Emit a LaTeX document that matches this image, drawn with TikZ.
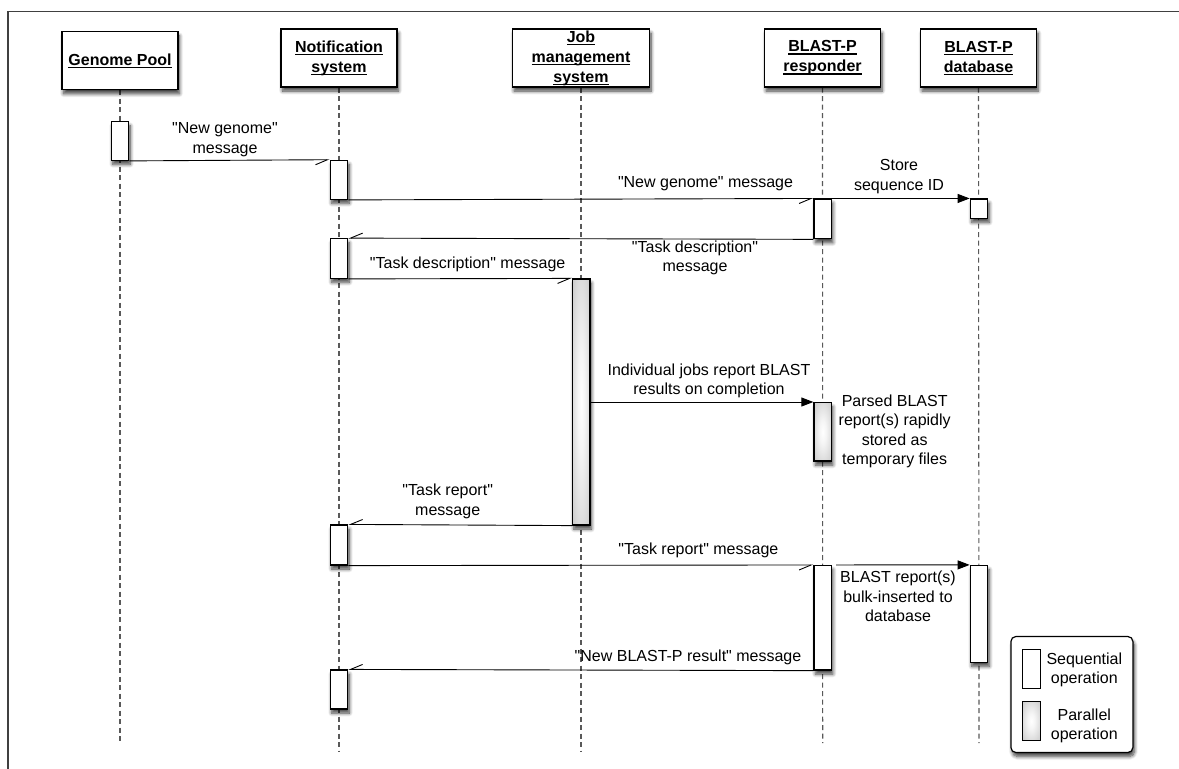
\documentclass[tikz,border=0pt]{standalone}
\usepackage{fontspec}
\setmainfont{Liberation Sans}[Ligatures=TeXOff]
\usetikzlibrary{arrows.meta,shadows.blur}

% underlined heading word: rule 2pt under the baseline
\newsavebox{\hdrbox}
\newcommand{\hdrul}[1]{\sbox{\hdrbox}{#1}\rlap{\rule[-2.6pt]{\wd\hdrbox}{1.1pt}}\usebox{\hdrbox}}

% light centre fading to grey towards the ends of a busy bar
\pgfdeclareradialshading{busy}{\pgfpoint{0bp}{0bp}}{%
  color(0bp)=(white); color(10bp)=(white!96!black);
  color(50bp)=(black!30); color(100bp)=(black!38)}

\tikzset{
  softshadow/.style={blur shadow={shadow xshift=1.5pt, shadow yshift=-4pt,
      shadow blur radius=3.5pt, shadow blur steps=8, shadow opacity=75}},
  header/.style={draw=black, line width=1.3pt, fill=white, softshadow,
      minimum width=116pt, minimum height=58pt, align=center, inner sep=0pt,
      font=\fontsize{16}{20}\selectfont\bfseries},
  act/.style={draw=black, line width=1.2pt, fill=white, softshadow,
      minimum width=17.5pt, inner sep=0pt},
  busyact/.style={act, shading=busy},
  keybox/.style={draw=black, line width=1pt, fill=white,
      minimum width=18pt, minimum height=39pt, inner sep=0pt},
  lifeline/.style={draw=black!65, line width=1.1pt, dash pattern=on 5pt off 3.5pt},
  msg/.style={draw=black, line width=0.9pt},
  async/.style={msg, -{Straight Barb[right, length=12pt, width=10pt]}},
  sync/.style={msg, -{Triangle[length=12pt, width=9pt]}},
  lbl/.style={align=center, inner sep=0pt, font=\fontsize{16}{19.5}\selectfont},
}

\begin{document}
\begin{tikzpicture}[x=1pt, y=-1pt]
\useasboundingbox (0,0) rectangle (1179,769);

% frame
\draw[black!75, line width=1.2pt] (8,769) -- (8,11.5) -- (1179,11.5);

% lifeline ends
\coordinate (eGP) at (120,744);
\coordinate (eNS) at (339,752);
\coordinate (eJM) at (581,752);
\coordinate (eBR) at (822.7,743);
\coordinate (eBD) at (979,743);

% lifelines (drawn first, under the boxes)
\draw[lifeline] (120,90) -- (eGP);
\draw[lifeline] (339,87.5) -- (eNS);
\draw[lifeline] (581,87.5) -- (eJM);
\draw[lifeline] (822.5,87.5) -- (eBR);
\draw[lifeline] (978.5,87.5) -- (eBD);

% participants
\node[header] (hGP) at (120,60.8) {\hdrul{Genome Pool}};
\node[header] (hNS) at (339,58) {\hdrul{Notification}\\\hdrul{system}};
\node[header, minimum width=137pt] (hJM) at (581,58) {\hdrul{Job}\\\hdrul{management}\\\hdrul{system}};
\node[header] (hBR) at (822.5,58) {\hdrul{BLAST-P}\\\hdrul{responder}};
\node[header] (hBD) at (978.5,58) {\hdrul{BLAST-P}\\\hdrul{database}};

% activations
\node[act, minimum height=38.6pt] (aGP)  at (120,141) {};
\node[act, minimum height=39pt]   (aNS1) at (339,179.8) {};
\node[act, minimum height=39.6pt] (aNS2) at (339,258.5) {};
\node[act, minimum height=40pt]   (aNS3) at (339,545) {};
\node[act, minimum height=39pt]   (aNS4) at (339,689.5) {};
\node[act, minimum height=39.7pt] (aBR1) at (822.7,218.9) {};
\node[busyact, minimum height=58.3pt] (aBRp) at (822.7,431.9) {};
\node[act, minimum height=104.5pt] (aBR3) at (822.7,617.8) {};
\node[act, minimum height=19.3pt] (aBD1) at (979,208.7) {};
\node[act, minimum height=96.8pt] (aBD2) at (979,613.9) {};
\node[busyact, minimum height=246pt] (aJM) at (581.2,402) {};

% messages
\draw[async] (aGP.south east) -- (aNS1.north west);
\draw[async] (aNS1.south east) -- (aBR1.north west);
\draw[sync]  (aBR1.north east) -- (aBD1.north west);
\draw[async] (aBR1.south west) -- (aNS2.north east);
\draw[async] (aNS2.south east) -- (aJM.north west);
\draw[sync]  (aJM.east) -- (aJM.east -| aBRp.west);
\draw[async] (aJM.south west) -- (aNS3.north east);
\draw[async] (aNS3.south east) -- (aBR3.north west);
\draw[sync, shorten <=4pt] (aBR3.north east) -- (aBD2.north west);
\draw[async] (aBR3.south west) -- (aNS4.north east);

% message texts
\node[lbl] (t1)  at (225,139.5)   {"New genome"\\message};
\node[lbl] (t2)  at (705.5,183.7) {"New genome" message};
\node[lbl] (t3)  at (899,176.7)   {Store\\sequence ID};
\node[lbl] (t4)  at (695,258)     {"Task description"\\message};
\node[lbl] (t5)  at (467.7,264)   {"Task description" message};
\node[lbl] (t6)  at (709,380.7)   {Individual jobs report BLAST\\results on completion};
\node[lbl] (t7)  at (894.7,431.5) {Parsed BLAST\\report(s) rapidly\\stored as\\temporary files};
\node[lbl] (t8)  at (447.7,501.2) {"Task report"\\message};
\node[lbl] (t9)  at (698.4,550.7) {"Task report" message};
\node[lbl] (t10) at (898,596.5)   {BLAST report(s)\\bulk-inserted to\\database};
\node[lbl] (t11) at (688,657.7)   {"New BLAST-P result" message};

% key
\node[draw=black, line width=1.2pt, rounded corners=5pt, fill=white, softshadow,
      minimum width=122pt, minimum height=116pt] (key) at (1071.9,694.5) {};
\node[keybox] (kSeq) at (1031.2,669) {};
\node[keybox, shading=busy] (kPar) at (1031.2,721) {};
\node[lbl] (tSeq) at (1084.3,670)   {Sequential\\operation};
\node[lbl] (tPar) at (1084.3,725.7) {Parallel\\operation};
\end{tikzpicture}
\end{document}
